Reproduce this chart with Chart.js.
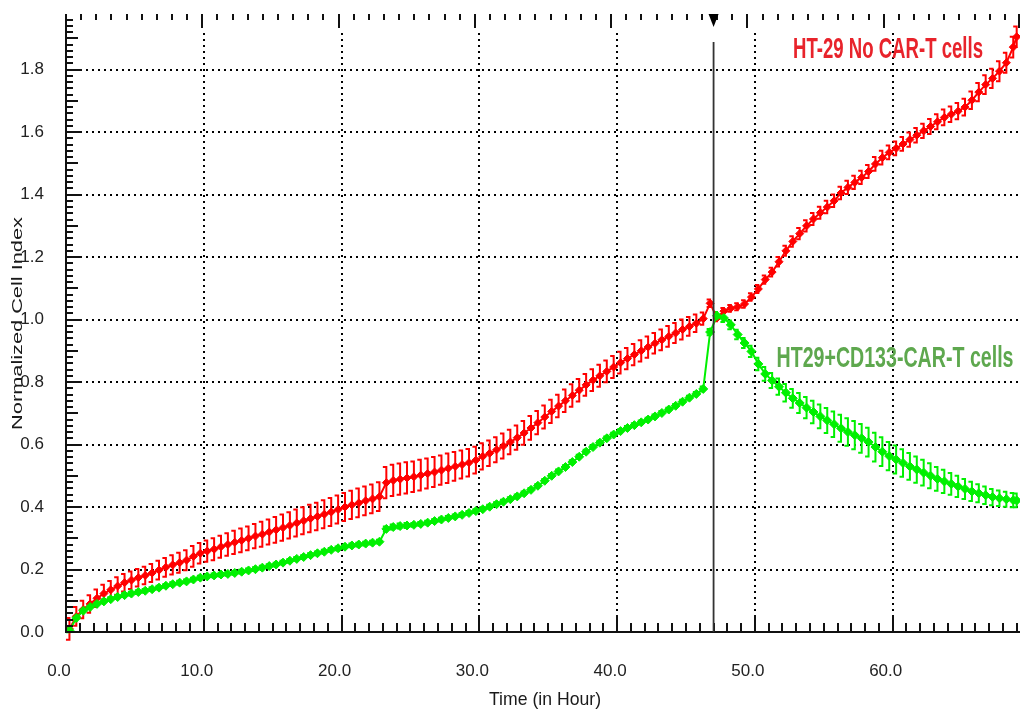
<!DOCTYPE html>
<html>
<head>
<meta charset="utf-8">
<title>Normalized Cell Index</title>
<script src="https://cdn.jsdelivr.net/npm/chart.js@4.4.1/dist/chart.umd.min.js"></script>
<style>
  html, body { margin: 0; padding: 0; background: #fff; }
  #wrap { width: 1020px; height: 712px; position: relative; }
</style>
</head>
<body>
<div id="wrap"><canvas id="chart" width="1020" height="712"></canvas></div>
<script>
// ══════════════════════════════════════════
// DATA (every 0.5 h)
// ══════════════════════════════════════════
const hours = [
  0.25, 0.75, 1.25, 1.75, 2.25, 2.75, 3.25, 3.75, 4.25, 4.75,
  5.25, 5.75, 6.25, 6.75, 7.25, 7.75, 8.25, 8.75, 9.25, 9.75,
  10.25, 10.75, 11.25, 11.75, 12.25, 12.75, 13.25, 13.75, 14.25, 14.75,
  15.25, 15.75, 16.25, 16.75, 17.25, 17.75, 18.25, 18.75, 19.25, 19.75,
  20.25, 20.75, 21.25, 21.75, 22.25, 22.75, 23.25, 23.75, 24.25, 24.75,
  25.25, 25.75, 26.25, 26.75, 27.25, 27.75, 28.25, 28.75, 29.25, 29.75,
  30.25, 30.75, 31.25, 31.75, 32.25, 32.75, 33.25, 33.75, 34.25, 34.75,
  35.25, 35.75, 36.25, 36.75, 37.25, 37.75, 38.25, 38.75, 39.25, 39.75,
  40.25, 40.75, 41.25, 41.75, 42.25, 42.75, 43.25, 43.75, 44.25, 44.75,
  45.25, 45.75, 46.25, 46.75, 47.25, 47.75, 48.25, 48.75, 49.25, 49.75,
  50.25, 50.75, 51.25, 51.75, 52.25, 52.75, 53.25, 53.75, 54.25, 54.75,
  55.25, 55.75, 56.25, 56.75, 57.25, 57.75, 58.25, 58.75, 59.25, 59.75,
  60.25, 60.75, 61.25, 61.75, 62.25, 62.75, 63.25, 63.75, 64.25, 64.75,
  65.25, 65.75, 66.25, 66.75, 67.25, 67.75, 68.25, 68.75, 69.0
];

// HT-29 No CAR-T cells
const redMean = [
  0.010, 0.050, 0.072, 0.090, 0.108, 0.123, 0.135, 0.147, 0.158, 0.166,
  0.174, 0.181, 0.189, 0.198, 0.207, 0.215, 0.222, 0.230, 0.242, 0.252,
  0.259, 0.265, 0.273, 0.280, 0.287, 0.293, 0.300, 0.307, 0.313, 0.320,
  0.327, 0.334, 0.341, 0.349, 0.356, 0.363, 0.370, 0.377, 0.384, 0.392,
  0.400, 0.407, 0.413, 0.420, 0.426, 0.433, 0.478, 0.485, 0.489, 0.493,
  0.497, 0.502, 0.507, 0.512, 0.518, 0.524, 0.530, 0.536, 0.542, 0.550,
  0.562, 0.572, 0.583, 0.595, 0.608, 0.622, 0.637, 0.653, 0.670, 0.688,
  0.706, 0.723, 0.740, 0.757, 0.774, 0.791, 0.806, 0.820, 0.834, 0.848,
  0.862, 0.875, 0.888, 0.900, 0.912, 0.924, 0.935, 0.946, 0.957, 0.968,
  0.978, 0.988, 1.003, 1.052, 1.005, 1.027, 1.036, 1.041, 1.050, 1.072,
  1.098, 1.128, 1.152, 1.185, 1.220, 1.250, 1.275, 1.300, 1.322, 1.342,
  1.360, 1.380, 1.405, 1.423, 1.439, 1.455, 1.474, 1.498, 1.518, 1.535,
  1.548, 1.562, 1.576, 1.590, 1.604, 1.618, 1.633, 1.647, 1.657, 1.667,
  1.680, 1.702, 1.728, 1.752, 1.772, 1.795, 1.822, 1.872, 1.905
];
const redErr = [
  0.035, 0.030, 0.028, 0.028, 0.028, 0.028, 0.028, 0.028, 0.028, 0.028,
  0.028, 0.028, 0.029, 0.030, 0.030, 0.031, 0.032, 0.032, 0.033, 0.033,
  0.034, 0.035, 0.035, 0.036, 0.037, 0.038, 0.038, 0.039, 0.040, 0.040,
  0.041, 0.042, 0.042, 0.043, 0.043, 0.044, 0.044, 0.045, 0.045, 0.045,
  0.045, 0.045, 0.046, 0.046, 0.046, 0.046, 0.050, 0.050, 0.050, 0.050,
  0.049, 0.049, 0.048, 0.048, 0.047, 0.047, 0.046, 0.045, 0.044, 0.043,
  0.042, 0.041, 0.040, 0.040, 0.039, 0.039, 0.038, 0.038, 0.037, 0.037,
  0.037, 0.036, 0.036, 0.036, 0.036, 0.035, 0.035, 0.035, 0.035, 0.035,
  0.035, 0.034, 0.034, 0.034, 0.034, 0.033, 0.033, 0.033, 0.032, 0.032,
  0.030, 0.028, 0.020, 0.012, 0.010, 0.010, 0.011, 0.011, 0.012, 0.012,
  0.013, 0.013, 0.014, 0.015, 0.016, 0.017, 0.018, 0.018, 0.019, 0.019,
  0.020, 0.020, 0.020, 0.021, 0.021, 0.021, 0.021, 0.022, 0.022, 0.022,
  0.022, 0.022, 0.023, 0.023, 0.023, 0.024, 0.024, 0.025, 0.025, 0.026,
  0.027, 0.028, 0.029, 0.030, 0.031, 0.032, 0.032, 0.033, 0.033
];

// HT29+CD133-CAR-T cells
const greenMean = [
  0.005, 0.045, 0.068, 0.080, 0.090, 0.098, 0.105, 0.112, 0.118, 0.123,
  0.128, 0.132, 0.137, 0.142, 0.148, 0.153, 0.158, 0.162, 0.168, 0.174,
  0.178, 0.181, 0.184, 0.186, 0.189, 0.193, 0.197, 0.201, 0.206, 0.211,
  0.216, 0.222, 0.228, 0.234, 0.240, 0.246, 0.252, 0.257, 0.263, 0.268,
  0.273, 0.277, 0.280, 0.283, 0.286, 0.289, 0.330, 0.336, 0.339, 0.341,
  0.343, 0.346, 0.350, 0.355, 0.360, 0.365, 0.370, 0.375, 0.381, 0.387,
  0.393, 0.401, 0.409, 0.417, 0.425, 0.434, 0.444, 0.455, 0.468, 0.484,
  0.500, 0.514, 0.528, 0.544, 0.561, 0.577, 0.592, 0.606, 0.620, 0.632,
  0.643, 0.653, 0.662, 0.671, 0.680, 0.690, 0.701, 0.712, 0.724, 0.737,
  0.750, 0.762, 0.778, 0.960, 1.012, 1.005, 0.983, 0.952, 0.925, 0.898,
  0.858, 0.826, 0.805, 0.785, 0.766, 0.748, 0.733, 0.718, 0.704, 0.690,
  0.677, 0.665, 0.652, 0.640, 0.630, 0.620, 0.608, 0.592, 0.577, 0.563,
  0.552, 0.541, 0.530, 0.520, 0.510, 0.500, 0.490, 0.482, 0.474, 0.466,
  0.458, 0.450, 0.444, 0.438, 0.432, 0.428, 0.425, 0.422, 0.421
];
const greenErr = [
  0.006, 0.006, 0.006, 0.006, 0.006, 0.006, 0.006, 0.006, 0.006, 0.006,
  0.006, 0.006, 0.006, 0.006, 0.006, 0.006, 0.006, 0.006, 0.006, 0.006,
  0.006, 0.006, 0.006, 0.006, 0.006, 0.006, 0.006, 0.006, 0.006, 0.006,
  0.006, 0.006, 0.006, 0.006, 0.006, 0.006, 0.006, 0.006, 0.006, 0.006,
  0.006, 0.006, 0.006, 0.006, 0.006, 0.006, 0.008, 0.008, 0.008, 0.008,
  0.006, 0.006, 0.006, 0.006, 0.006, 0.006, 0.006, 0.006, 0.006, 0.006,
  0.006, 0.006, 0.006, 0.006, 0.006, 0.006, 0.006, 0.006, 0.006, 0.006,
  0.006, 0.006, 0.006, 0.006, 0.006, 0.006, 0.006, 0.006, 0.006, 0.006,
  0.006, 0.006, 0.006, 0.006, 0.006, 0.006, 0.006, 0.006, 0.006, 0.006,
  0.006, 0.006, 0.008, 0.010, 0.012, 0.013, 0.014, 0.015, 0.016, 0.018,
  0.020, 0.022, 0.024, 0.026, 0.028, 0.030, 0.032, 0.034, 0.036, 0.038,
  0.040, 0.041, 0.043, 0.044, 0.045, 0.046, 0.046, 0.046, 0.046, 0.045,
  0.045, 0.044, 0.043, 0.042, 0.041, 0.040, 0.038, 0.037, 0.035, 0.034,
  0.032, 0.031, 0.029, 0.028, 0.026, 0.025, 0.024, 0.023, 0.022
];

const xTicks = [0, 10, 20, 30, 40, 50, 60];
const yTicks = [0, 0.2, 0.4, 0.6, 0.8, 1.0, 1.2, 1.4, 1.6, 1.8];
const markerHour = 47.0;

const RED = "#ff0000";
const GREEN = "#00f000";
const FONT = "'Liberation Sans Narrow', 'Arial Narrow', 'Liberation Sans', sans-serif";

function pts(mean) {
  return hours.map((h, i) => ({ x: h, y: mean[i] }));
}

// ══════════════════════════════════════════
// DECORATION PLUGIN (grid, error bars, axes, labels)
// ══════════════════════════════════════════
function seg(ctx, x1, y1, x2, y2) {
  ctx.beginPath();
  ctx.moveTo(x1, y1);
  ctx.lineTo(x2, y2);
  ctx.stroke();
}

function drawErrors(chart, mean, err, color) {
  const { ctx, scales: { x, y } } = chart;
  ctx.strokeStyle = color;
  ctx.lineWidth = 2;
  hours.forEach((h, i) => {
    const px = x.getPixelForValue(h);
    const top = y.getPixelForValue(mean[i] + err[i]);
    const bot = y.getPixelForValue(mean[i] - err[i]);
    ctx.beginPath();
    ctx.moveTo(px - 3.5, top);
    ctx.lineTo(px, top);
    ctx.lineTo(px, bot);
    ctx.lineTo(px - 3.5, bot);
    ctx.stroke();
  });
}

function noPad(s) {
  s.paddingTop = 0;
  s.paddingBottom = 0;
  s.paddingLeft = 0;
  s.paddingRight = 0;
}

const decor = {
  id: "decor",
  beforeDatasetsDraw(chart) {
    const { ctx, chartArea: a, scales: { x, y } } = chart;
    ctx.save();
    // dotted grid
    ctx.strokeStyle = "#000";
    ctx.lineWidth = 2;
    ctx.setLineDash([2, 4]);
    xTicks.slice(1).forEach((v) => {
      const px = Math.round(x.getPixelForValue(v));
      seg(ctx, px, a.top + 19, px, a.bottom);
    });
    yTicks.slice(1).forEach((v) => {
      const py = Math.round(y.getPixelForValue(v));
      seg(ctx, a.left + 20, py, a.right, py);
    });
    ctx.setLineDash([]);
    // error bars
    drawErrors(chart, redMean, redErr, RED);
    drawErrors(chart, greenMean, greenErr, GREEN);
    ctx.restore();
  },
  afterDraw(chart) {
    const { ctx, chartArea: a, scales: { x, y } } = chart;
    ctx.save();
    ctx.strokeStyle = "#111";
    ctx.lineWidth = 2;
    // axis lines
    seg(ctx, a.left, a.top, a.left, a.bottom + 1);
    seg(ctx, a.left - 1, a.bottom, a.right, a.bottom);
    // y ticks (inside)
    for (let k = 0; k * 0.02 <= y.max; k++) {
      const py = Math.round(y.getPixelForValue(k * 0.02));
      const len = k % 10 === 0 ? 16 : k % 5 === 0 ? 12 : 7;
      seg(ctx, a.left, py, a.left + len, py);
    }
    // x ticks (inside, every hour)
    for (let h = 1; h <= x.max; h++) {
      const px = Math.round(x.getPixelForValue(h));
      const len = h % 10 === 0 ? 17 : 9;
      seg(ctx, px, a.bottom, px, a.bottom - len);
    }
    // top ticks: 7 major intervals, 9 minor each
    const w = a.right - a.left;
    for (let k = 1; k <= 63; k++) {
      const px = Math.min(Math.round(a.left + (w * k) / 63), a.right - 1);
      const len = k % 9 === 0 ? 14 : 6;
      seg(ctx, px, a.top, px, a.top + len);
    }
    // marker line + triangle
    const mx = x.getPixelForValue(markerHour);
    ctx.strokeStyle = "#333";
    ctx.lineWidth = 1.8;
    seg(ctx, mx, a.top + 28, mx, a.bottom);
    ctx.fillStyle = "#000";
    ctx.beginPath();
    ctx.moveTo(mx - 5, a.top);
    ctx.lineTo(mx + 5, a.top);
    ctx.lineTo(mx, a.top + 13);
    ctx.closePath();
    ctx.fill();

    // axis titles
    ctx.fillStyle = "#1a1a1a";
    ctx.textAlign = "center";
    ctx.textBaseline = "middle";
    ctx.font = "19px 'Liberation Sans', Arial, sans-serif";
    ctx.fillText("Time (in Hour)", 545, 700, 112);
    ctx.save();
    ctx.translate(18, 323.5);
    ctx.rotate(-Math.PI / 2);
    ctx.scale(1.45, 1);
    ctx.font = "15px 'Liberation Sans', Arial, sans-serif";
    ctx.fillText("Normalized Cell Index", 0, 0);
    ctx.restore();

    // series annotations
    ctx.font = "bold 30px " + FONT;
    ctx.fillStyle = "#e8232b";
    ctx.fillText("HT-29 No CAR-T cells", 888, 50, 190);
    ctx.fillStyle = "#5ea84e";
    ctx.fillText("HT29+CD133-CAR-T cells", 895, 359, 237);
    ctx.restore();
  },
};

// ══════════════════════════════════════════
// CHART
// ══════════════════════════════════════════
new Chart(document.getElementById("chart"), {
  type: "line",
  data: {
    datasets: [
      {
        label: "HT29+CD133-CAR-T cells",
        data: pts(greenMean),
        borderColor: GREEN,
        backgroundColor: GREEN,
        borderWidth: 2,
        pointStyle: "rectRot",
        pointRadius: 4.5,
        pointBorderWidth: 1,
      },
      {
        label: "HT-29 No CAR-T cells",
        data: pts(redMean),
        borderColor: RED,
        backgroundColor: RED,
        borderWidth: 2,
        pointStyle: "rectRot",
        pointRadius: 4,
        pointBorderWidth: 1,
      },
    ],
  },
  options: {
    responsive: false,
    animation: false,
    layout: { autoPadding: false, padding: { top: 14, right: 0, left: 0, bottom: 0 } },
    plugins: { legend: { display: false }, tooltip: { enabled: false } },
    scales: {
      x: {
        type: "linear",
        min: 0,
        max: 69.24,
        afterFit: (s) => { s.height = 80; noPad(s); },
        afterBuildTicks: (s) => { s.ticks = xTicks.map((v) => ({ value: v })); },
        grid: { display: false },
        border: { display: false },
        ticks: {
          color: "#222",
          font: { family: FONT, size: 17 },
          padding: 21,
          labelOffset: -7,
          maxRotation: 0,
          callback: (v) => v.toFixed(1),
        },
      },
      y: {
        min: 0,
        max: 1.978,
        afterFit: (s) => { s.width = 66; noPad(s); },
        afterBuildTicks: (s) => { s.ticks = yTicks.map((v) => ({ value: v })); },
        grid: { display: false },
        border: { display: false },
        ticks: {
          color: "#222",
          font: { family: FONT, size: 17 },
          padding: 14,
          callback: (v) => v.toFixed(1),
        },
      },
    },
  },
  plugins: [decor],
});
</script>
</body>
</html>
